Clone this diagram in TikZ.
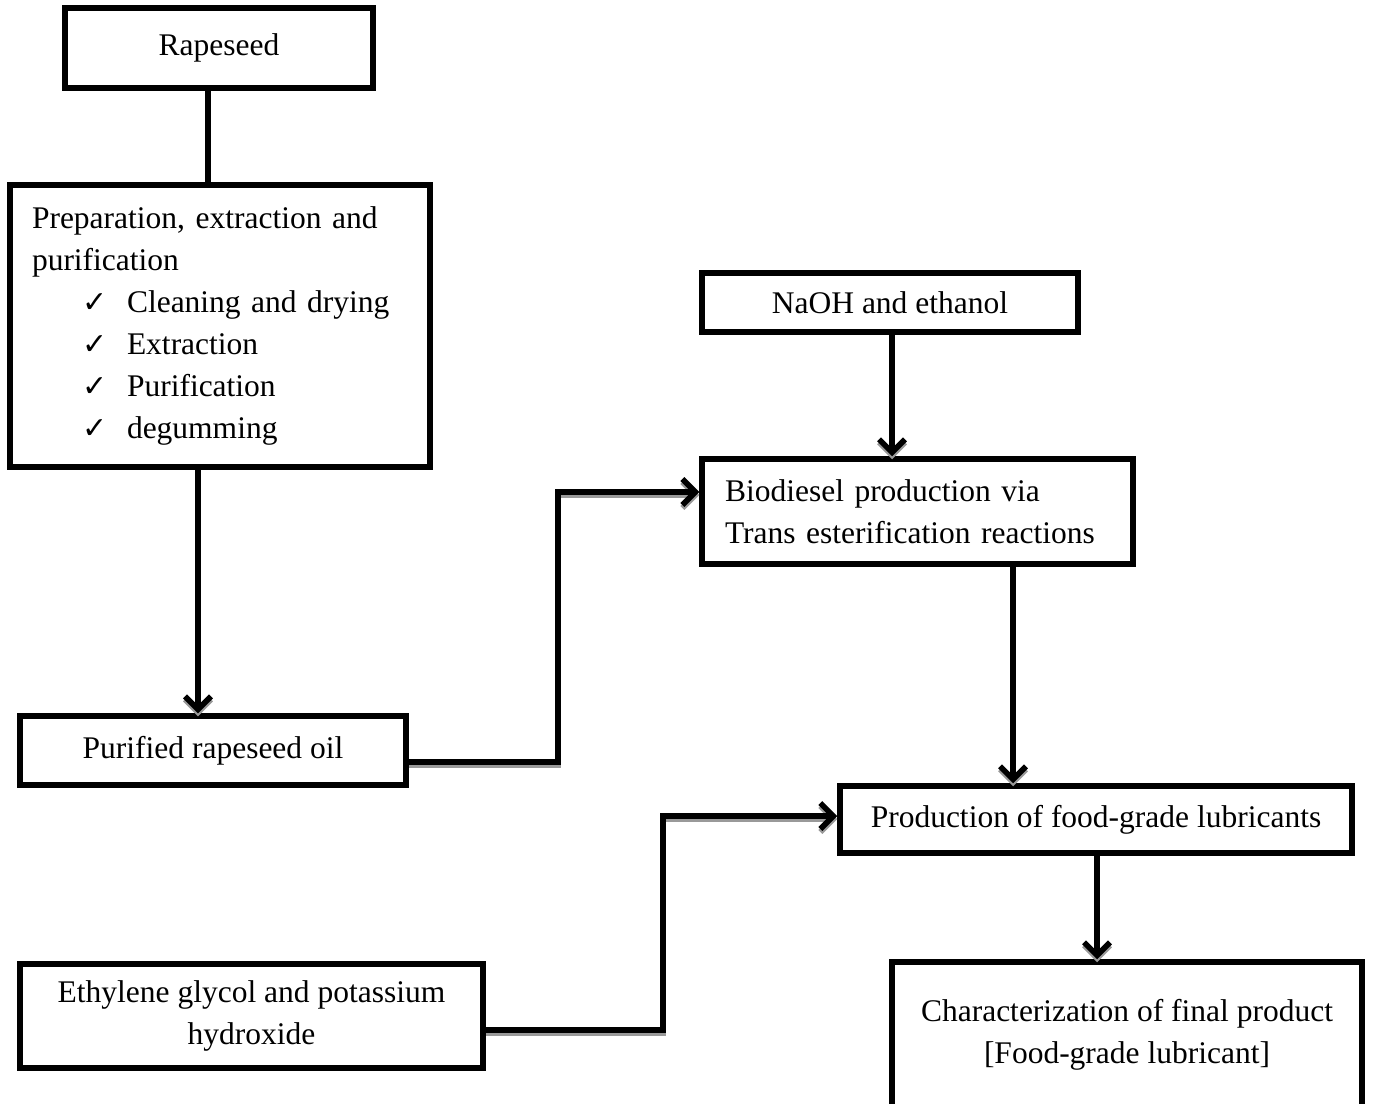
\documentclass[tikz,border=0pt]{standalone}
\usepackage{fontspec}
\setmainfont{Liberation Serif}
\newfontfamily\ckfont{DejaVu Sans}
\usetikzlibrary{arrows.meta,positioning}

\newcommand{\tickitem}[1]{\hspace*{50pt}\makebox[45pt][l]{\ckfont\fontsize{30}{42}\selectfont ✓}#1}

\tikzset{
  box/.style={draw, rectangle, line width=5.5pt, inner sep=0pt, align=center,
    font=\fontsize{31.5}{42}\selectfont},
  link/.style={line width=5.5pt},
  flow/.style={line width=5.5pt, -{Straight Barb[length=13pt,width=26pt]}},
  shade/.style={preaction={draw=black!40, line width=5.5pt, transform canvas={yshift=-3pt}}}
}

\begin{document}
\begin{tikzpicture}[x=1pt,y=-1pt]

      \clip (0,0) rectangle (1373,1103);
      \fill[white] (0,0) rectangle (1373,1103);

      \node[box, minimum width=420, minimum height=282, text width=376, align=left] (prep) at (220,326)
        {Preparation, extraction and\\purification\\
         \tickitem{Cleaning and drying}\\
         \tickitem{Extraction}\\
         \tickitem{Purification}\\
         \tickitem{degumming}};
      \node[box, minimum width=308, minimum height=80] (rape) at (219,48) {Rapeseed};
      \node[box, minimum width=376, minimum height=59] (naoh) at (890,302.5) {NaOH and ethanol};
      \node[box, minimum width=431, minimum height=105, text width=385, align=left] (bio) at (917.5,511.5)
        {Biodiesel production via\\Trans esterification reactions};
      \node[box, minimum width=386, minimum height=69] (pure) at (213,750.5) {Purified rapeseed oil};
      \node[box, minimum width=512, minimum height=67] (prod) at (1096,819.5) {Production of food-grade lubricants};
      \node[box, minimum width=463, minimum height=104] (eth) at (251.5,1016)
        {Ethylene glycol and potassium\\hydroxide};
      \node[box, minimum width=470, minimum height=146] (char) at (1127,1035)
        {Characterization of final product\\{[Food-grade lubricant]}};

      % bends of the side feeds
      \coordinate (j1) at (558,492);
      \coordinate (j2) at (663,816);

      \draw[link] ([xshift=-11pt]rape.south) -- ([xshift=-11pt]rape.south |- prep.north);
      \draw[flow,shade] ([xshift=-22pt]prep.south) -- ([xshift=-22pt]prep.south |- pure.north);
      \draw[flow,shade] ([yshift=-11.5pt]pure.east) -| (j1) -- (j1 -| bio.west);
      \draw[flow,shade] ([xshift=2pt]naoh.south) -- ([xshift=2pt]naoh.south |- bio.north);
      \draw[flow,shade] ([xshift=95.5pt]bio.south) -- ([xshift=95.5pt]bio.south |- prod.north);
      \draw[flow,shade] ([yshift=-14pt]eth.east) -| (j2) -- (j2 -| prod.west);
      \draw[flow,shade] ([xshift=1pt]prod.south) -- ([xshift=1pt]prod.south |- char.north);

    \end{tikzpicture}
\end{document}
